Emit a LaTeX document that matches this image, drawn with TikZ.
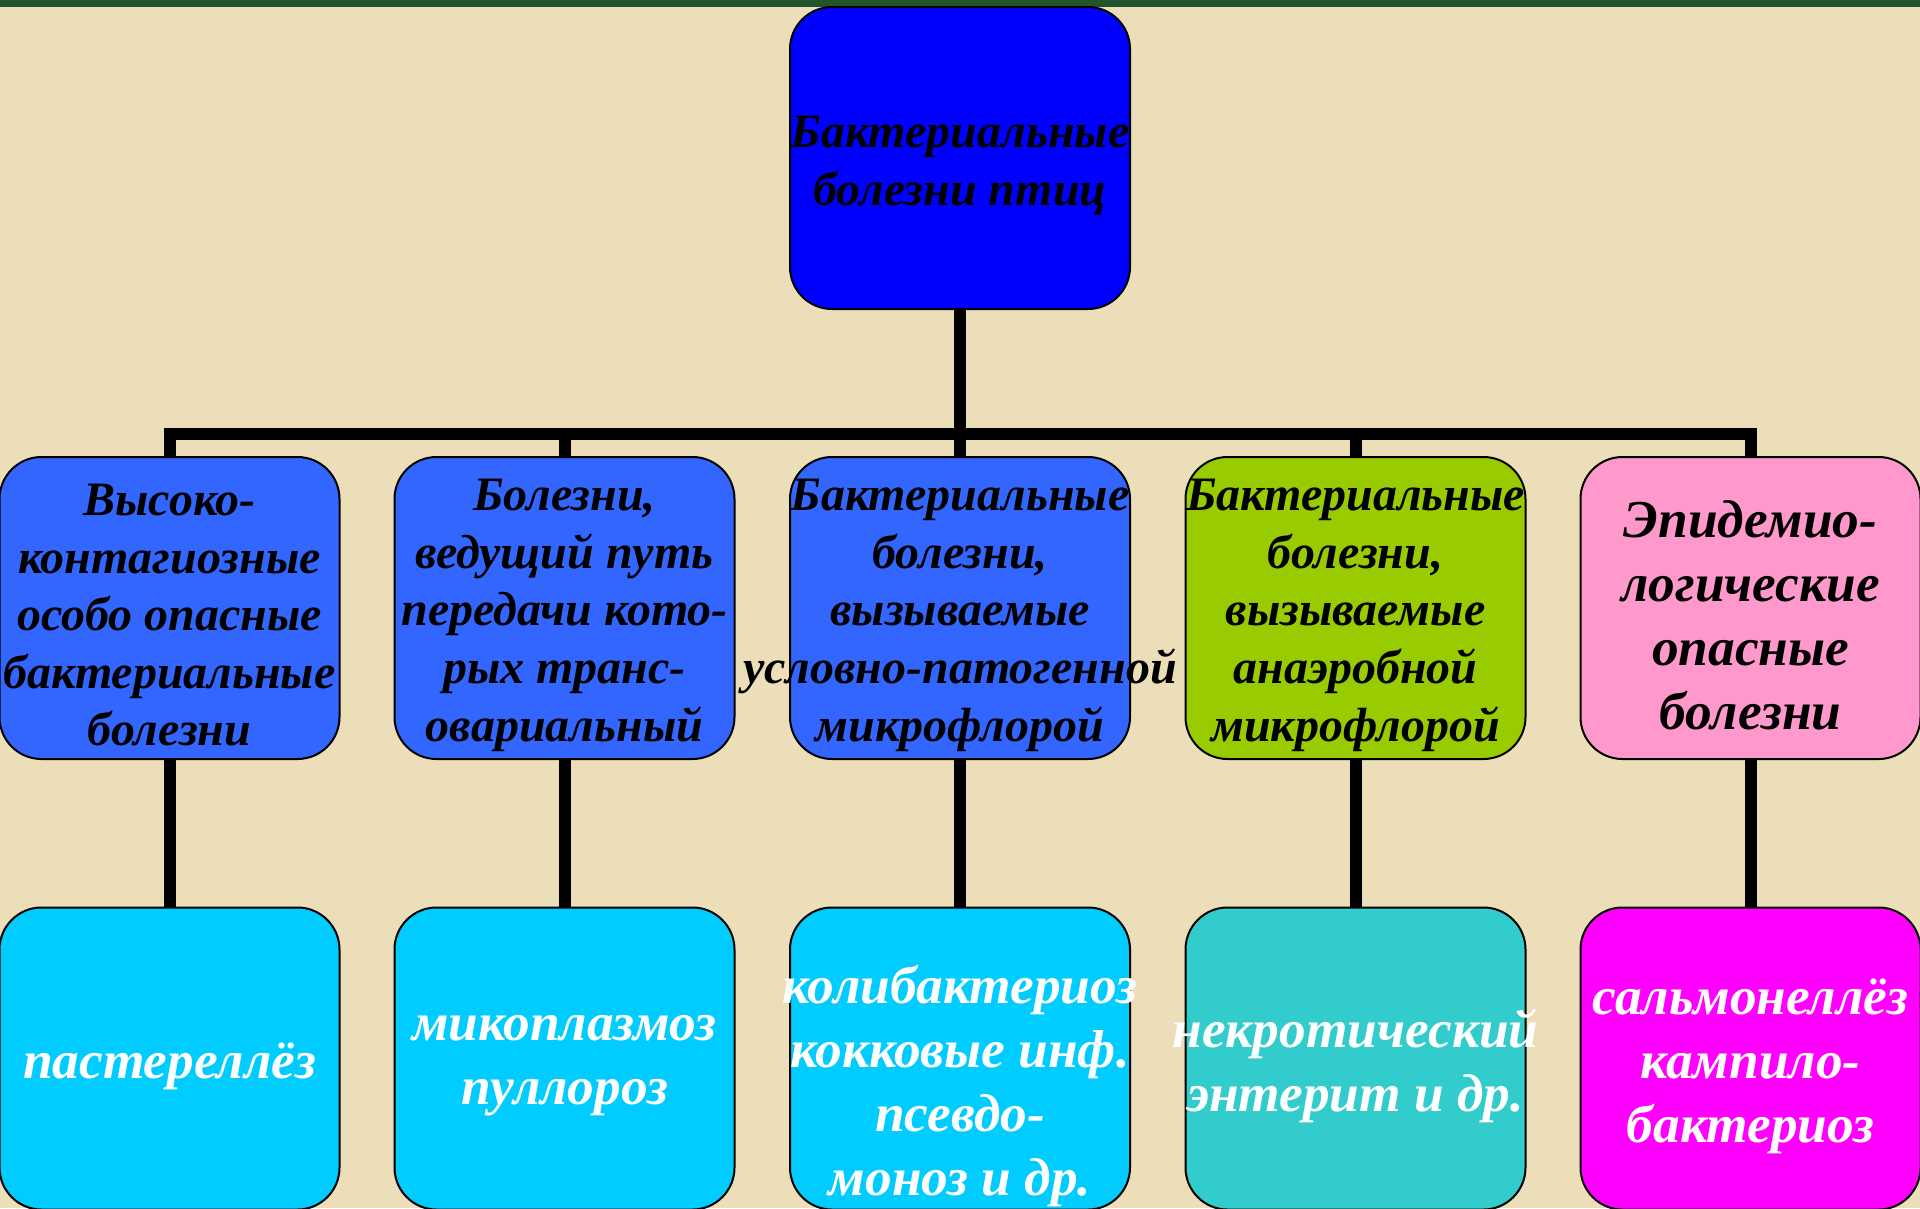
\documentclass[tikz,border=0pt]{standalone}
\usepackage{fontspec}
\setmainfont{Liberation Serif}
\usepackage{xcolor}
\definecolor{paper}{RGB}{236,222,184}
\definecolor{grass}{RGB}{34,84,44}
\definecolor{rootblue}{RGB}{0,0,255}
\definecolor{midblue}{RGB}{51,102,255}
\definecolor{midgreen}{RGB}{153,204,0}
\definecolor{midpink}{RGB}{255,153,204}
\definecolor{lowcyan}{RGB}{0,204,255}
\definecolor{lowteal}{RGB}{51,204,204}
\definecolor{lowmagenta}{RGB}{255,0,255}
\tikzset{
    box/.style={draw=black, line width=0.75pt, rounded corners=15.75pt,
        minimum width=127.5pt, minimum height=113.25pt, inner sep=0pt},
    blk/.style={font=\fontsize{18}{21.6}\selectfont\bfseries\itshape, align=center, text=black, inner sep=0pt, yshift=-2.75pt},
    blkbig/.style={font=\fontsize{20}{24}\selectfont\bfseries\itshape, align=center, text=black, inner sep=0pt, yshift=-2.75pt},
    wht/.style={font=\fontsize{20}{24}\selectfont\bfseries\itshape, align=center, text=white, inner sep=0pt, yshift=-2.75pt},
    link/.style={line width=4.5pt}
}

\begin{document}
\begin{tikzpicture}[x=0.375pt,y=-0.375pt]
	\useasboundingbox (0,0) rectangle (1920,1208);
	\fill[paper] (0,0) rectangle (1920,1208);
	\fill[grass] (0,0) rectangle (1920,7);

	% top
	\node[box,fill=rootblue,label={[blk]center:{Бактериальные\\болезни птиц}}] (root) at (960,158) {};

	% middle row
	\node[box,fill=midblue,label={[blk]center:{Высоко-\\контагиозные\\особо опасные\\бактериальные\\болезни}}] (m1) at (169.5,608) {};
	\node[box,fill=midblue,label={[blk]center:{Болезни,\\ведущий путь\\передачи кото-\\рых транс-\\овариальный}}] (m2) at (564.5,608) {};
	\node[box,fill=midblue,label={[blk]center:{Бактериальные\\болезни,\\вызываемые\\условно-патогенной\\микрофлорой}}] (m3) at (960,608) {};
	\node[box,fill=midgreen,label={[blk]center:{Бактериальные\\болезни,\\вызываемые\\анаэробной\\микрофлорой}}] (m4) at (1355.5,608) {};
	\node[box,fill=midpink,label={[blkbig]center:{Эпидемио-\\логические\\опасные\\болезни}}] (m5) at (1750.5,608) {};

	% bottom row
	\node[box,fill=lowcyan,label={[wht]center:{пастереллёз}}] (b1) at (169.5,1058.5) {};
	\node[box,fill=lowcyan,label={[wht]center:{микоплазмоз\\пуллороз}}] (b2) at (564.5,1058.5) {};
	\node[box,fill=lowcyan,label={[wht,yshift=-7.5pt]center:{колибактериоз\\кокковые инф.\\псевдо-\\моноз и др.}}] (b3) at (960,1058.5) {};
	\node[box,fill=lowteal,label={[wht]center:{некротический\\энтерит и др.}}] (b4) at (1355.5,1058.5) {};
	\node[box,fill=lowmagenta,label={[wht]center:{сальмонеллёз\\кампило-\\бактериоз}}] (b5) at (1750.5,1058.5) {};

	% links
	\coordinate (bus) at (960,434);
	\draw[link] (root.south) -- (bus);
	\draw[link] (m1.north) |- (bus);
	\draw[link] (m2.north) |- (bus);
	\draw[link] (m3.north) -- (bus);
	\draw[link] (m4.north) |- (bus);
	\draw[link] (m5.north) |- (bus);

	\draw[link] (m1) -- (b1);
	\draw[link] (m2) -- (b2);
	\draw[link] (m3) -- (b3);
	\draw[link] (m4) -- (b4);
	\draw[link] (m5) -- (b5);
\end{tikzpicture}
\end{document}
